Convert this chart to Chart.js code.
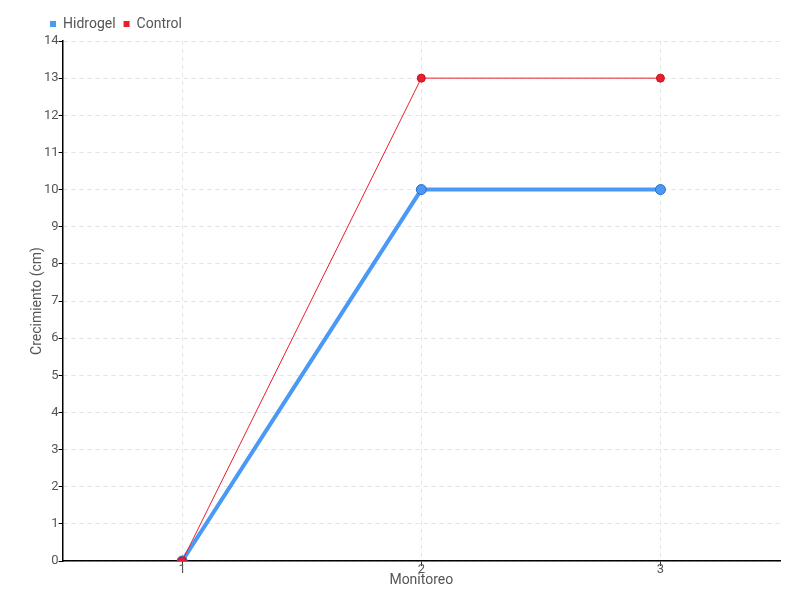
<!DOCTYPE html>
<html lang="es">
<head>
  <meta charset="UTF-8">
  <title>Crecimiento</title>
  <script src="https://cdn.jsdelivr.net/npm/chart.js"></script>
  <style>
    html, body { margin: 0; padding: 0; background: #fff; }
    #wrap { width: 800px; height: 600px; }
  </style>
</head>
<body>
  <div id="wrap"><canvas id="grafico"></canvas></div>
  <script>
    // datos
    const monitoreos = ['1', '2', '3'];
    const hidrogel = [0, 10, 10];
    const control = [0, 13, 13];

    Chart.defaults.font.family = "Roboto, 'Liberation Sans', sans-serif";
    Chart.defaults.font.size = 13;
    Chart.defaults.color = '#555';

    // la leyenda del original empieza a la altura del eje y
    const moverLeyenda = {
      id: 'moverLeyenda',
      afterLayout(chart) {
        chart.legend.left += 12;
        chart.legend.right += 12;
      }
    };

    const ctx = document.getElementById('grafico').getContext('2d');
    new Chart(ctx, {
      type: 'line',
      data: {
        labels: monitoreos,
        // Control va primero para que quede dibujado encima
        datasets: [{
          label: 'Control',
          data: control,
          borderColor: '#e8202e',
          backgroundColor: '#e8202e',
          borderWidth: 1,
          pointRadius: 4,
          pointBorderWidth: 1,
          pointBorderColor: '#c81020',
          tension: 0
        }, {
          label: 'Hidrogel',
          data: hidrogel,
          borderColor: '#4a9af5',
          backgroundColor: '#4a9af5',
          borderWidth: 4,
          pointRadius: 5,
          pointBorderWidth: 1,
          pointBorderColor: '#2a6ac8',
          tension: 0
        }]
      },
      options: {
        responsive: true,
        maintainAspectRatio: false,
        animation: false,
        layout: { padding: { left: 30, right: 20, top: 9, bottom: 13 } },
        plugins: {
          legend: {
            position: 'top',
            align: 'start',
            reverse: true,
            labels: {
              boxWidth: 6,
              boxHeight: 6,
              padding: 8,
              font: { size: 14 },
              // cuadritos sin borde, todos del mismo tamano
              generateLabels(chart) {
                return Chart.defaults.plugins.legend.labels.generateLabels(chart)
                  .map(item => Object.assign(item, { lineWidth: 0 }));
              }
            }
          },
          tooltip: { enabled: false }
        },
        scales: {
          x: {
            offset: true,
            grid: { color: '#e3e3e3', tickColor: '#333', tickLength: 5, offset: false },
            border: { color: '#000', width: 1.5, dash: [4, 4] },
            ticks: { padding: -3, font: { lineHeight: 1 } },
            title: { display: true, text: 'Monitoreo', font: { size: 14, lineHeight: 1 }, padding: { top: 0, bottom: 0 } }
          },
          y: {
            min: 0,
            max: 14,
            ticks: { stepSize: 1, padding: 0 },
            grid: { color: '#e3e3e3', tickColor: '#000', tickLength: 4 },
            border: { color: '#000', width: 1.5, dash: [4, 4] },
            title: { display: true, text: 'Crecimiento (cm)', font: { size: 14, lineHeight: 1 }, padding: 0 }
          }
        }
      },
      plugins: [moverLeyenda]
    });
  </script>
</body>
</html>
